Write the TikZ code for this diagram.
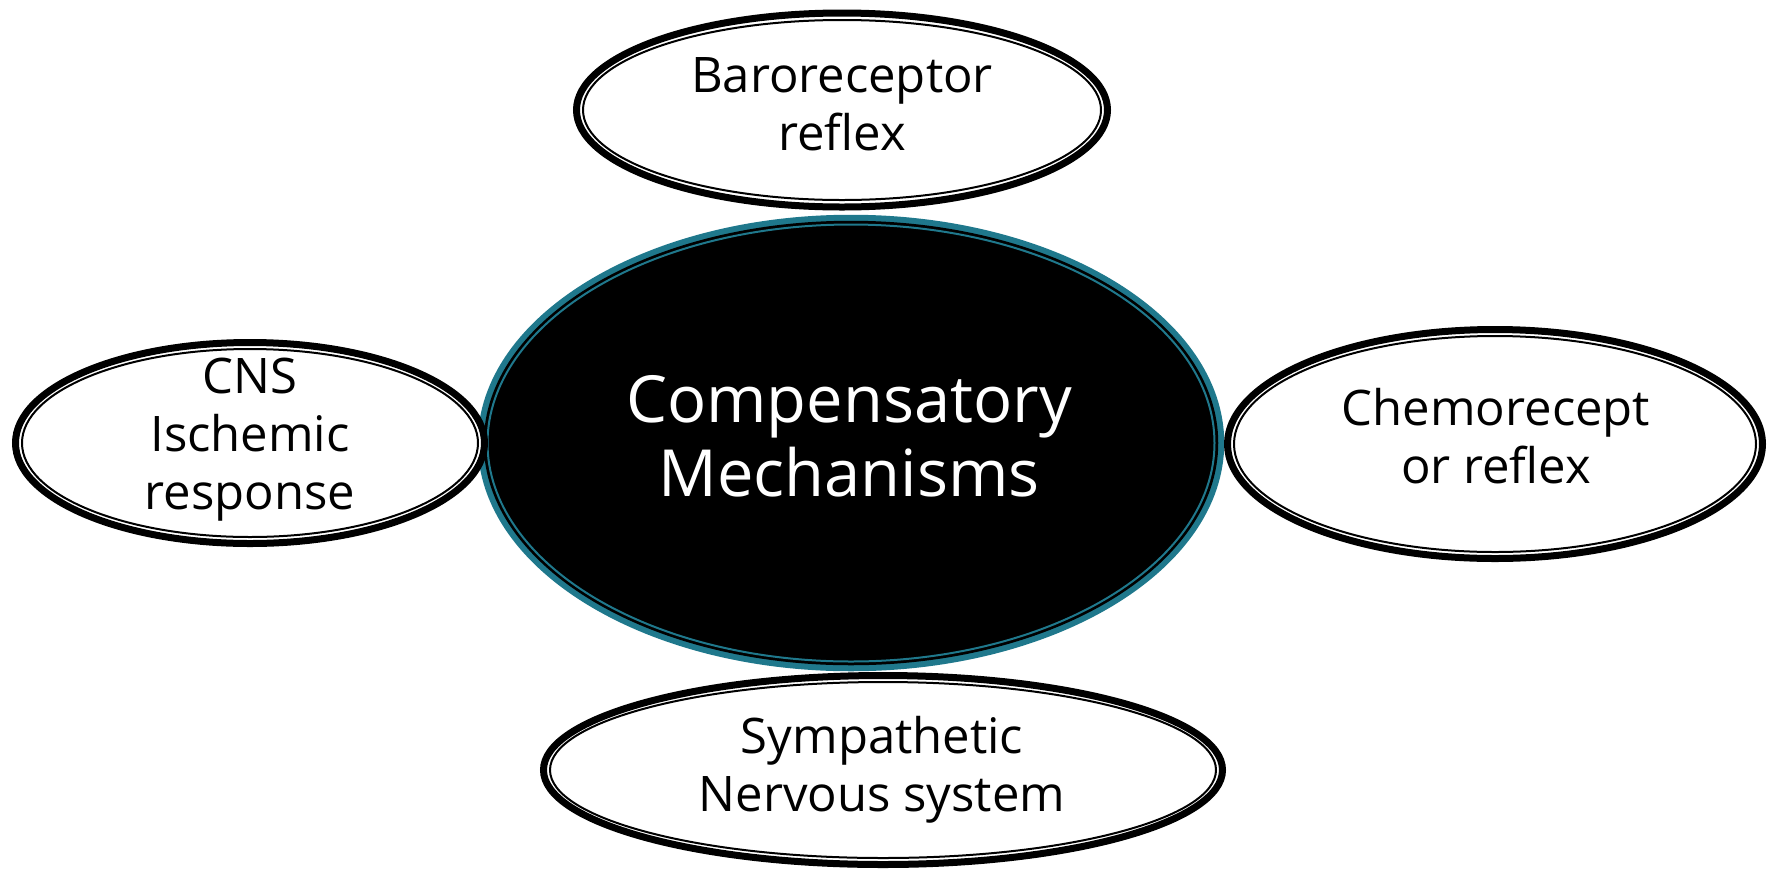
\documentclass[tikz,border=0pt]{standalone}
\usepackage{fontspec}
\setmainfont{Open Sans}
\usetikzlibrary{shapes.geometric}
\definecolor{tealring}{RGB}{31,120,140}
\tikzset{
  bubble/.style={ellipse, draw=black, line width=7pt, fill=white, inner sep=0pt, outer sep=0pt},
  bubbletext/.style={align=center, inner sep=0pt, font=\fontsize{49}{58}\selectfont},
  innerring/.style={draw=black, line width=2pt},
  hub/.style={ellipse, draw=tealring, line width=7.5pt, fill=black, inner sep=0pt, outer sep=0pt},
  hubtext/.style={align=center, inner sep=0pt, text=white, font=\fontsize{65}{74}\selectfont},
  hubring/.style={draw=black, line width=2.5pt},
  hubinner/.style={draw=tealring, line width=2pt},
}
\begin{document}
\begin{tikzpicture}[x=1pt,y=-1pt]
\useasboundingbox (0,0) rectangle (1773,871);
% centre
\node[hub, minimum width=739pt, minimum height=449pt] (hubn) at (851,443) {};
\draw[hubring] (hubn.center) ellipse [x radius=366pt, y radius=221pt];
\draw[hubinner] (hubn.center) ellipse [x radius=363.5pt, y radius=218.5pt];
\node[hubtext] (hubt) at (849,436) {Compensatory\\Mechanisms};
% top
\node[bubble, minimum width=531pt, minimum height=194pt] (baro) at (842,110) {};
\draw[innerring] (baro.center) ellipse [x radius=259pt, y radius=90pt];
\node[bubbletext] (barot) at (842,104) {Baroreceptor\\reflex};
% left
\node[bubble, minimum width=469pt, minimum height=201pt] (cns) at (250,443) {};
\draw[innerring] (cns.center) ellipse [x radius=228pt, y radius=94pt];
\node[bubbletext] (cnst) at (250,440) {CNS\\Ischemic\\response};
% right
\node[bubble, minimum width=535pt, minimum height=229pt] (chemo) at (1495,444) {};
\draw[innerring] (chemo.center) ellipse [x radius=261pt, y radius=108pt];
\node[bubbletext] (chemot) at (1496,436) {Chemorecept\\or reflex};
% bottom
\node[bubble, minimum width=679pt, minimum height=189pt] (symp) at (883,770) {};
\draw[innerring] (symp.center) ellipse [x radius=333pt, y radius=88pt];
\node[bubbletext] (sympt) at (882,770) {Sympathetic\\Nervous system};
\end{tikzpicture}
\end{document}
